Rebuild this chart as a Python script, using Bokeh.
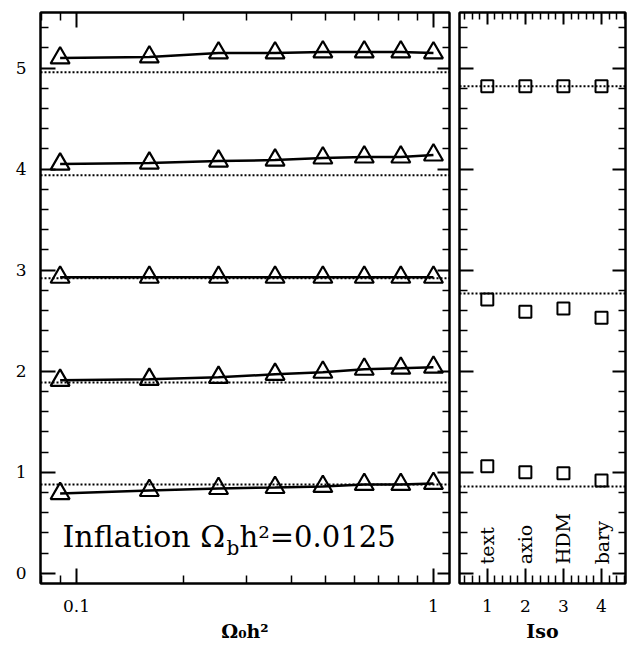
import numpy as np
from bokeh.plotting import figure
from bokeh.models import (Span, Label, LinearAxis, LogAxis, FixedTicker, Range1d,
                          BasicTickFormatter)
from bokeh.layouts import row
from bokeh.embed import file_html
from bokeh.resources import INLINE
from bokeh.core.properties import value

# ---------------- data ----------------
omega_h2 = [0.09, 0.16, 0.25, 0.36, 0.49, 0.64, 0.81, 1.0]
series_1 = [0.79, 0.82, 0.84, 0.85, 0.86, 0.88, 0.88, 0.89]
series_2 = [1.91, 1.92, 1.94, 1.97, 1.99, 2.02, 2.03, 2.04]
series_3 = [2.93, 2.93, 2.93, 2.93, 2.93, 2.93, 2.93, 2.93]
series_4 = [4.05, 4.06, 4.08, 4.09, 4.11, 4.12, 4.12, 4.14]
series_5 = [5.10, 5.11, 5.15, 5.15, 5.16, 5.16, 5.16, 5.15]
left_reference = [0.88, 1.89, 2.92, 3.94, 4.96]

iso_x = [1, 2, 3, 4]
iso_names = ["text", "axio", "HDM", "bary"]
iso_low = [1.06, 1.00, 0.99, 0.92]
iso_mid = [2.71, 2.59, 2.62, 2.53]
iso_high = [4.82, 4.82, 4.82, 4.82]
iso_reference = [0.86, 2.77, 4.82]

left_x_major = [0.1, 1]
left_x_minor = [0.08, 0.09, 0.2, 0.3, 0.4, 0.5, 0.6, 0.7, 0.8, 0.9]
y_major = [0, 1, 2, 3, 4, 5]
y_minor = [0.2, 0.4, 0.6, 0.8, 1.2, 1.4, 1.6, 1.8, 2.2, 2.4, 2.6, 2.8,
           3.2, 3.4, 3.6, 3.8, 4.2, 4.4, 4.6, 4.8, 5.2, 5.4]
iso_major = [1, 2, 3, 4]
iso_minor = [0.4, 0.6, 0.8, 1.2, 1.4, 1.6, 1.8, 2.2, 2.4, 2.6, 2.8,
             3.2, 3.4, 3.6, 3.8, 4.2, 4.4, 4.6]

FONT = "DejaVu Serif"
TICK_FS = "17px"


def style_axis(ax, tin, tmin, labels=True):
    ax.major_tick_in = tin
    ax.major_tick_out = 0
    ax.minor_tick_in = tmin
    ax.minor_tick_out = 0
    ax.major_tick_line_width = 2
    ax.minor_tick_line_width = 1.5
    ax.axis_line_width = 2
    ax.major_tick_line_color = "black"
    ax.minor_tick_line_color = "black"
    ax.axis_line_color = "black"
    ax.major_label_text_font = FONT
    ax.major_label_text_color = "black"
    ax.axis_label_text_font = FONT
    ax.axis_label_text_font_style = "bold"
    ax.axis_label_text_font_size = "19px"
    ax.axis_label_text_color = "black"
    if labels:
        ax.major_label_text_font_size = TICK_FS
        ax.major_label_standoff = 16
        ax.axis_label_standoff = 5
    else:
        ax.major_label_text_font_size = "1px"
        ax.major_label_text_alpha = 0
        ax.major_label_standoff = 0


def base_fig(**kw):
    p = figure(output_backend="svg", toolbar_location=None,
               y_range=Range1d(-0.1, 5.55),
               height=644, min_border_top=12, min_border_bottom=58, **kw)
    p.grid.visible = False
    p.outline_line_color = "black"
    p.outline_line_width = 2
    p.background_fill_color = "white"
    p.border_fill_color = "white"
    return p


# ---------------- left panel ----------------
p1 = base_fig(width=454, x_axis_type="log", x_range=Range1d(0.0793, 1.109),
              min_border_left=40, min_border_right=5)
p1.xaxis.ticker = FixedTicker(ticks=left_x_major, minor_ticks=left_x_minor)
p1.xaxis.formatter = BasicTickFormatter(use_scientific=False)
p1.yaxis.ticker = FixedTicker(ticks=y_major, minor_ticks=y_minor)
p1.xaxis.axis_label = "Ω₀h²"
style_axis(p1.xaxis[0], 15, 8)
style_axis(p1.yaxis[0], 15, 8)
p1.yaxis.major_label_standoff = 14
top1 = LogAxis(ticker=FixedTicker(ticks=left_x_major, minor_ticks=left_x_minor))
style_axis(top1, 15, 8, labels=False)
p1.add_layout(top1, "above")
right1 = LinearAxis(ticker=FixedTicker(ticks=y_major, minor_ticks=y_minor))
style_axis(right1, 12, 7, labels=False)
p1.add_layout(right1, "right")

for yv in left_reference:
    p1.add_layout(Span(location=yv, dimension="width", line_color="black",
                       line_width=2, line_dash="2 2"))

for s in [series_1, series_2, series_3, series_4, series_5]:
    p1.line(omega_h2, s, line_color="black", line_width=2.5)
    p1.scatter(omega_h2, s, marker="triangle", size=19, fill_alpha=0,
               line_color="black", line_width=2.2)

lx, ly = 0.0914, 0.187
p1.add_layout(Label(x=lx, y=ly, text="Inflation Ω", text_font=FONT,
                    text_font_size="30px", text_color="black"))
p1.add_layout(Label(x=lx, y=ly, x_offset=164, y_offset=-6, text="b", text_font=FONT,
                    text_font_size="20px", text_color="black"))
p1.add_layout(Label(x=lx, y=ly, x_offset=177, text="h²=0.0125", text_font=FONT,
                    text_font_size="29px", text_color="black"))

# ---------------- right panel ----------------
p2 = base_fig(width=173, x_range=Range1d(0.27, 4.63),
              min_border_left=5, min_border_right=2)
p2.xaxis.ticker = FixedTicker(ticks=iso_major, minor_ticks=iso_minor)
p2.yaxis.ticker = FixedTicker(ticks=y_major, minor_ticks=y_minor)
p2.xaxis.axis_label = "Iso"
style_axis(p2.xaxis[0], 15, 8)
style_axis(p2.yaxis[0], 14, 8, labels=False)
top2 = LinearAxis(ticker=FixedTicker(ticks=iso_major, minor_ticks=iso_minor))
style_axis(top2, 12, 7, labels=False)
p2.add_layout(top2, "above")
right2 = LinearAxis(ticker=FixedTicker(ticks=y_major, minor_ticks=y_minor))
style_axis(right2, 13, 7, labels=False)
p2.add_layout(right2, "right")

for yv in iso_reference:
    p2.add_layout(Span(location=yv, dimension="width", line_color="black",
                       line_width=2, line_dash="2 2"))

for s in [iso_low, iso_mid, iso_high]:
    p2.scatter(iso_x, s, marker="square", size=12, fill_alpha=0,
               line_color="black", line_width=2)

p2.text(x=iso_x, y=[0.09] * len(iso_x), text=iso_names, angle=np.pi / 2,
        text_align="left", text_baseline="middle",
        text_font=value(FONT), text_font_size="19px", text_color="black")

layout = row(p1, p2)
open("out.html", "w").write(file_html(layout, INLINE))
